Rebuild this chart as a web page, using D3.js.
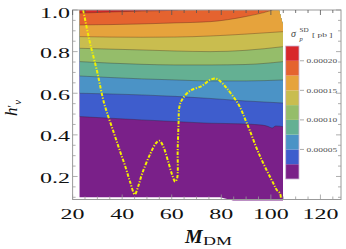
<!DOCTYPE html>
<html><head><meta charset="utf-8">
<script src="https://cdn.jsdelivr.net/npm/d3@7"></script>
<style>body{margin:0;background:#fff}svg{display:block}</style>
</head><body>
<svg id="c" width="346" height="249"></svg>
<script>
// ---------- data ----------
const xTicks = [20, 40, 60, 80, 100, 120];
const yTicks = [0.2, 0.4, 0.6, 0.8, 1.0];
const yTickLabels = ["0.2", "0.4", "0.6", "0.8", "1.0"];
const cbTicks = [0.00005, 0.00010, 0.00015, 0.00020];
const cbTickLabels = ["0.00005", "0.00010", "0.00015", "0.00020"];
const levels = [0, 0.000025, 0.00005, 0.000075, 0.0001, 0.000125, 0.00015, 0.000175, 0.0002, 0.000225];
const bandColors = ["#7a2089", "#3e5dcd", "#4b93c6", "#64b093", "#95bd6a", "#c9bd4f", "#e6a33c", "#e5632f", "#d8272b"];

// contour lines [M_DM, h'_nu] for levels 0.000025 ... 0.0002
const c025 = [[22.8,0.488],[35,0.480],[48,0.472],[61.4,0.464],[75.5,0.456],[87.6,0.453],[96.5,0.447],[99,0.440],[100.5,0.433],[102,0.443],[105,0.439]];
const c050 = [[22.8,0.600],[48,0.592],[61.4,0.585],[75.5,0.575],[89.6,0.563],[105,0.553]];
const c075 = [[22.8,0.683],[48,0.669],[61.4,0.664],[75.5,0.659],[89.6,0.659],[105,0.664]];
const c100 = [[22.8,0.752],[48,0.739],[61.4,0.736],[75.5,0.736],[89.6,0.738],[105,0.752]];
const c125 = [[22.8,0.816],[48,0.808],[61.4,0.803],[75.5,0.800],[89.6,0.806],[105,0.824]];
const c150 = [[22.8,0.872],[48,0.869],[61.4,0.870],[75.5,0.875],[89.6,0.884],[105,0.896]];
const c175 = [[22.8,0.928],[48,0.933],[61.4,0.938],[75.5,0.944],[89.6,0.968],[99.6,0.996],[103,1.01]];
const c200 = [[22.8,0.985],[48,0.995],[62,0.999],[72,1.008]];
const contourLines = [c025, c050, c075, c100, c125, c150, c175, c200];

// region where the scan has data
const dataRegion = [[22.8,0.1],[22.8,1.0],[103.3,1.0],[104.9,0.928],[104.9,0.085],[84.8,0.085],[79.5,0.1]];

// yellow dot-dashed curve
const yellowM = [24.3,26.6,29.9,32.7,36.7,39.2,41.3,43.2,45.1,46.5,48.1,51.3,53.7,55.0,56.5,58.6,60.2,61.4,62.2,62.4,62.8,63.0,64.1,67.4,72.1,75.5,77.9,79.9,82.2,86.9,90.3,95.7,101.0,102.4,103.7,104.1];
const yellowH = [1.0,0.864,0.704,0.553,0.408,0.319,0.247,0.174,0.114,0.154,0.215,0.308,0.361,0.372,0.347,0.270,0.207,0.175,0.193,0.327,0.472,0.529,0.568,0.612,0.635,0.664,0.670,0.654,0.624,0.547,0.456,0.295,0.167,0.135,0.119,0.092];

// ---------- drawing ----------
const svg = d3.select("#c");
const x = d3.scaleLinear([20, 128.3], [72.6, 341]);
const y = d3.scaleLinear([0.0894, 1.0], [199.5, 10]);
const serif = "'Liberation Serif','DejaVu Serif',serif";

const defs = svg.append("defs");
defs.append("clipPath").attr("id","dr").append("path")
  .attr("d", d3.line().x(d=>x(d[0])).y(d=>y(d[1]))(dataRegion) + "Z");
defs.append("clipPath").attr("id","fr").append("rect")
  .attr("x", x(20)).attr("y", y(1.0)).attr("width", x(128.3)-x(20)).attr("height", y(0.0894)-y(1.0));

const g = svg.append("g").attr("clip-path","url(#dr)");
g.append("rect").attr("x", x(20)).attr("y", y(1.05)).attr("width", x(110)-x(20)).attr("height", y(0.05)-y(1.05))
  .attr("fill", bandColors[0]);
const area = d3.area().x(d=>x(d[0])).y0(d=>y(d[1])).y1(y(1.05)).curve(d3.curveMonotoneX);
const line = d3.line().x(d=>x(d[0])).y(d=>y(d[1])).curve(d3.curveMonotoneX);
contourLines.forEach((c,i) => {
  g.append("path").attr("d", area(c)).attr("fill", bandColors[i+1]);
});
contourLines.forEach((c,i) => {
  g.append("path").attr("d", line(c)).attr("fill","none")
    .attr("stroke","rgba(50,30,30,0.45)").attr("stroke-width",0.7);
});

// yellow curve
const yl = yellowM.map((m,i)=>[m, yellowH[i]]);
svg.append("g").attr("clip-path","url(#fr)").append("path")
  .attr("d", d3.line().x(d=>x(d[0])).y(d=>y(d[1])).curve(d3.curveCatmullRom)(yl))
  .attr("fill","none").attr("stroke","#f4f000").attr("stroke-width",2)
  .attr("stroke-dasharray","3.5,1.5,1.2,1.5");

// frame
const fc = "#9a9a9a";
svg.append("rect").attr("x", x(20)).attr("y", y(1.0)).attr("width", x(128.3)-x(20)).attr("height", y(0.0894)-y(1.0))
  .attr("fill","none").attr("stroke", fc).attr("stroke-width",1);
const ax = svg.append("g").attr("stroke", fc).attr("stroke-width",0.8);
const xMinor = d3.range(20, 128.3, 5);
xMinor.forEach(v => {
  const L = xTicks.includes(v) ? 5 : 3;
  ax.append("line").attr("x1",x(v)).attr("x2",x(v)).attr("y1",y(0.0894)).attr("y2",y(0.0894)-L);
  ax.append("line").attr("x1",x(v)).attr("x2",x(v)).attr("y1",y(1.0)).attr("y2",y(1.0)+L)
    .attr("stroke", "#555");
});
const yMinor = d3.range(0.1, 1.001, 0.05);
yMinor.forEach(v => {
  const L = yTicks.some(t=>Math.abs(t-v)<1e-6) ? 5 : 3;
  ax.append("line").attr("x1",x(20)).attr("x2",x(20)+L).attr("y1",y(v)).attr("y2",y(v));
  ax.append("line").attr("x1",x(128.3)).attr("x2",x(128.3)-L).attr("y1",y(v)).attr("y2",y(v));
});

// tick labels
xTicks.forEach(v => {
  svg.append("text").attr("transform",`translate(${x(v)},${y(0.0894)+19.5}) scale(1.6,1)`)
    .attr("text-anchor","middle").attr("font-family",serif).attr("font-size",15).attr("fill","#111").text(v);
});
yTicks.forEach((v,i) => {
  svg.append("text").attr("transform",`translate(70,${y(v)+ (v===1.0?7.5:6.5)}) scale(1.6,1)`)
    .attr("text-anchor","end").attr("font-family",serif).attr("font-size",15).attr("fill","#111").text(yTickLabels[i]);
});

// axis titles
const xt = svg.append("g").attr("font-family",serif).attr("fill","#111");
xt.append("text").attr("transform","translate(185,243) scale(1.1,1)").attr("font-size",18)
  .attr("font-style","italic").attr("font-weight","bold").text("M");
xt.append("text").attr("transform","translate(203,245) scale(1.5,1)").attr("font-size",12).text("DM");
const yt = svg.append("text").attr("transform","translate(17,108) rotate(-90)").attr("text-anchor","middle")
  .attr("font-family",serif).attr("fill","#111");
yt.append("tspan").attr("font-size",17).attr("font-style","italic").text("h");
yt.append("tspan").attr("font-size",13).attr("dy",-1).text("′");
yt.append("tspan").attr("font-size",11).attr("font-style","italic").attr("dy",5).text("ν");

// colorbar
const cb = d3.scaleLinear([0, 0.000225], [179, 46]);
const cbx = 285.7, cbw = 13.3;
levels.slice(0,-1).forEach((lv,i) => {
  svg.append("rect").attr("x",cbx).attr("y",cb(levels[i+1])).attr("width",cbw)
    .attr("height",cb(lv)-cb(levels[i+1])).attr("fill",bandColors[i]);
});
svg.append("rect").attr("x",cbx).attr("y",cb(0.000225)).attr("width",cbw).attr("height",cb(0)-cb(0.000225))
  .attr("fill","none").attr("stroke","#cbb6d4").attr("stroke-width",0.8);
cbTicks.forEach((v,i) => {
  svg.append("line").attr("x1",cbx+cbw+1).attr("x2",cbx+cbw+5).attr("y1",cb(v)).attr("y2",cb(v))
    .attr("stroke","#888").attr("stroke-width",0.7);
  svg.append("text").attr("transform",`translate(306.5,${cb(v)+2.5}) scale(1.35,1)`)
    .attr("font-family",serif).attr("font-size",7).attr("fill","#555").text(cbTickLabels[i]);
});
const lt = svg.append("g").attr("font-family",serif).attr("fill","#444");
lt.append("text").attr("x",291).attr("y",37).attr("font-size",10).attr("font-style","italic").text("σ");
lt.append("text").attr("transform","translate(299.5,32) scale(1.3,1)").attr("font-size",5.5).text("SD");
lt.append("text").attr("x",299.5).attr("y",40.5).attr("font-size",6.5).attr("font-style","italic").text("p");
lt.append("text").attr("transform","translate(312,37) scale(1.35,1)").attr("font-size",7).text("[ pb ]");
</script>
</body></html>
